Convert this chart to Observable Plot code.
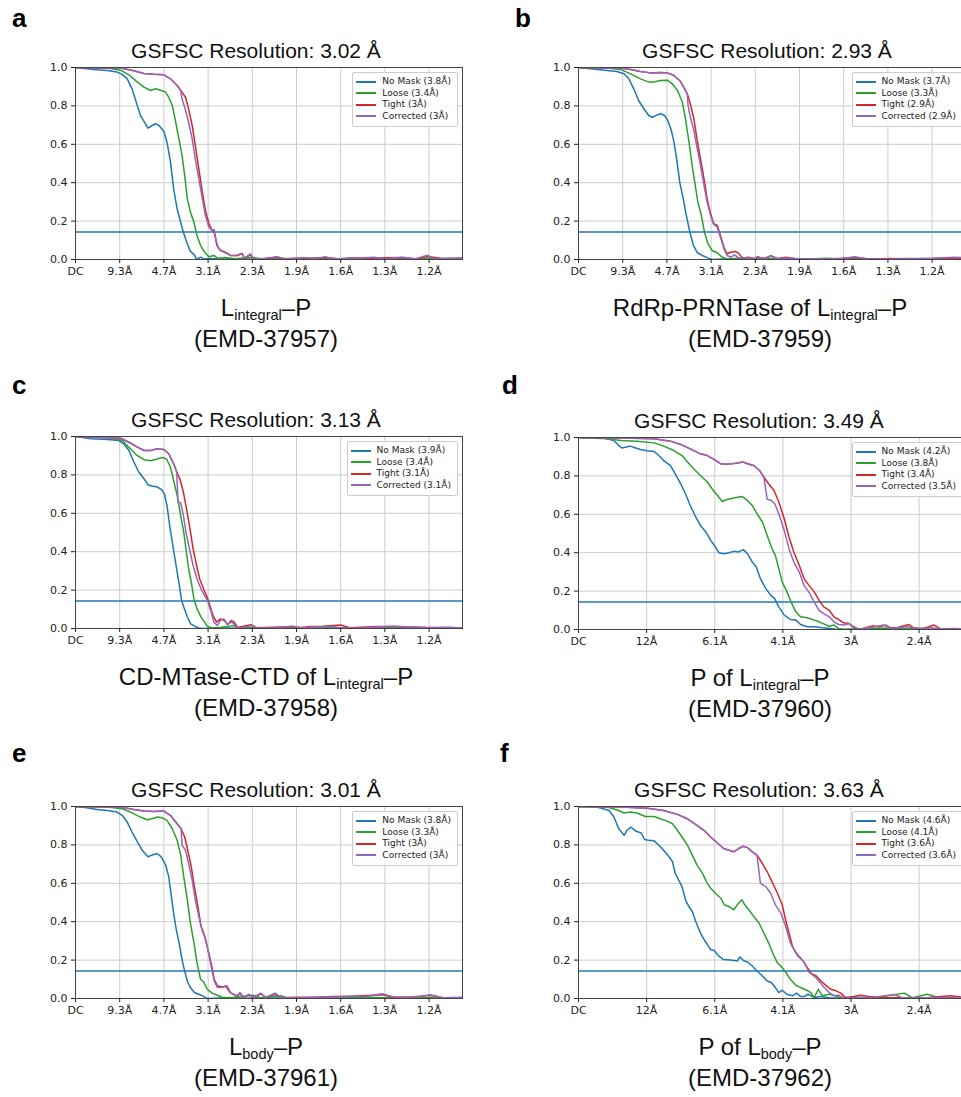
<!DOCTYPE html>
<html><head><meta charset="utf-8">
<script src="https://cdn.jsdelivr.net/npm/d3@7"></script>
<script src="https://cdn.jsdelivr.net/npm/@observablehq/plot@0.6"></script>
<style>
html,body{margin:0;padding:0;background:#fff;width:961px;height:1097px;overflow:hidden}
#page{position:relative;width:961px;height:1097px;overflow:hidden;background:#fff}
.panel{position:absolute;overflow:visible}
.panel svg{max-width:none !important;display:block}
.legend{position:absolute;font-family:"DejaVu Sans";font-size:9px;color:#222;line-height:11.5px;padding:3px 6px 4px 3px;border:1px solid #ccc;border-radius:2px;background:rgba(255,255,255,0.85);white-space:nowrap}
.legend .row{display:flex;align-items:center}
.legend .sw{display:inline-block;width:20px;height:1.6px;margin-right:6px}
#overlay{position:absolute;left:0;top:0}
</style></head>
<body><div id="page"></div>
<script>
// ---------- axis ticks (x in units of the tick spacing, i.e. spatial frequency steps) ----------
const ticksHi = [0,1,2,3,4,5,6,7,8];
const labelsHi = ["DC","9.3Å","4.7Å","3.1Å","2.3Å","1.9Å","1.6Å","1.3Å","1.2Å"];
const ticksLo = [0,1,2,3,4,5];
const labelsLo = ["DC","12Å","6.1Å","4.1Å","3Å","2.4Å"];
const yTicks = [0,0.2,0.4,0.6,0.8,1.0];
const threshold = 0.143;
const seriesNames = ["No Mask","Loose","Tight","Corrected"];
const seriesColors = ["#1f77b4","#2ca02c","#d62728","#9467bd"];

// ---------- panel a ----------
const aNoMask = [[0,1],[0.41,0.99],[0.72,0.984],[0.94,0.976],[1.06,0.964],[1.17,0.941],[1.28,0.889],[1.40,0.80],[1.47,0.75],[1.56,0.715],[1.64,0.684],[1.71,0.694],[1.81,0.707],[1.89,0.698],[2.0,0.667],[2.07,0.611],[2.15,0.507],[2.22,0.368],[2.30,0.264],[2.38,0.194],[2.44,0.142],[2.53,0.082],[2.60,0.042],[2.69,0.024],[2.74,0.0],[2.83,0.012],[2.90,0.003],[3.0,0.005],[3.3,0.002],[3.7,0.004],[4.2,0.001],[4.8,0.003],[5.4,0.002],[6.0,0.003],[6.6,0.001],[7.2,0.003],[7.8,0.002],[8.4,0.003],[8.76,0.001]];
const aLoose = [[0,1],[0.72,0.997],[1.02,0.986],[1.21,0.962],[1.40,0.924],[1.55,0.898],[1.70,0.880],[1.81,0.889],[1.92,0.882],[2.04,0.872],[2.11,0.845],[2.19,0.802],[2.26,0.724],[2.34,0.628],[2.41,0.542],[2.47,0.438],[2.53,0.316],[2.60,0.247],[2.68,0.194],[2.75,0.125],[2.83,0.073],[2.92,0.038],[3.02,0.014],[3.13,0.021],[3.21,0.007],[3.4,0.01],[3.6,0.004],[3.8,0.008],[4.0,0.012],[4.2,0.003],[4.5,0.01],[4.8,0.004],[5.1,0.006],[5.6,0.009],[5.9,0.003],[6.2,0.008],[6.6,0.003],[7.0,0.005],[7.5,0.003],[8.0,0.006],[8.4,0.002],[8.76,0.004]];
const aTight = [[0,1],[1.02,0.997],[1.32,0.983],[1.55,0.969],[1.77,0.965],[2.0,0.962],[2.15,0.941],[2.30,0.906],[2.38,0.880],[2.49,0.845],[2.56,0.783],[2.64,0.698],[2.71,0.594],[2.79,0.472],[2.87,0.351],[2.94,0.255],[3.02,0.186],[3.09,0.151],[3.14,0.142],[3.20,0.073],[3.28,0.047],[3.39,0.038],[3.51,0.021],[3.66,0.02],[3.77,0.03],[3.82,0.006],[3.96,0.025],[4.03,0.004],[4.3,0.005],[4.57,0.012],[4.7,0.004],[5.0,0.006],[5.3,0.004],[5.66,0.01],[6.0,0.003],[6.3,0.008],[6.75,0.006],[7.0,0.009],[7.4,0.01],[7.7,0.003],[7.96,0.016],[8.3,0.005],[8.76,0.006]];
const aCorrected = [[0,1],[1.02,0.997],[1.32,0.983],[1.55,0.969],[1.77,0.965],[2.0,0.962],[2.15,0.941],[2.30,0.906],[2.38,0.880],[2.41,0.837],[2.47,0.793],[2.54,0.733],[2.64,0.628],[2.71,0.524],[2.79,0.42],[2.87,0.316],[2.94,0.229],[3.02,0.168],[3.09,0.151],[3.14,0.156],[3.18,0.099],[3.24,0.056],[3.36,0.038],[3.51,0.021],[3.66,0.024],[3.77,0.033],[3.82,0.007],[3.96,0.03],[4.03,0.003],[4.3,0.006],[4.57,0.015],[4.7,0.003],[5.0,0.005],[5.17,0.01],[5.4,0.004],[5.66,0.015],[5.8,0.003],[6.3,0.006],[6.75,0.012],[7.0,0.003],[7.4,0.012],[7.7,0.004],[7.96,0.022],[8.1,0.004],[8.5,0.006],[8.76,0.008]];

// ---------- panel b ----------
const bNoMask = [[0,1],[0.42,0.99],[0.65,0.984],[0.87,0.979],[1.03,0.967],[1.14,0.941],[1.25,0.889],[1.36,0.828],[1.48,0.785],[1.59,0.75],[1.67,0.741],[1.78,0.753],[1.86,0.759],[1.95,0.75],[2.02,0.724],[2.10,0.672],[2.16,0.611],[2.22,0.524],[2.29,0.403],[2.37,0.316],[2.44,0.229],[2.52,0.142],[2.60,0.073],[2.69,0.035],[2.80,0.021],[2.91,0.01],[3.02,0],[3.3,0.003],[3.7,0.001],[4.2,0.003],[4.8,0.002],[5.4,0.003],[6.0,0.001],[6.6,0.003],[7.2,0.002],[7.8,0.003],[8.8,0.002]];
const bLoose = [[0,1],[0.65,0.997],[0.95,0.99],[1.18,0.967],[1.40,0.941],[1.59,0.924],[1.70,0.924],[1.86,0.932],[2.01,0.934],[2.12,0.915],[2.24,0.880],[2.35,0.819],[2.42,0.733],[2.50,0.611],[2.57,0.490],[2.63,0.403],[2.70,0.299],[2.78,0.229],[2.85,0.142],[2.93,0.082],[3.02,0.047],[3.14,0.035],[3.25,0.012],[3.36,0.003],[3.6,0.006],[3.9,0.003],[4.2,0.008],[4.5,0.003],[4.8,0.005],[5.2,0.002],[5.6,0.006],[6.0,0.003],[6.5,0.004],[7.0,0.003],[7.5,0.005],[8.0,0.003],[8.8,0.004]];
const bTight = [[0,1],[0.95,0.997],[1.18,0.99],[1.40,0.979],[1.63,0.972],[1.86,0.974],[2.01,0.972],[2.16,0.958],[2.31,0.927],[2.40,0.889],[2.46,0.863],[2.53,0.811],[2.61,0.733],[2.68,0.628],[2.76,0.524],[2.84,0.42],[2.91,0.316],[2.99,0.238],[3.06,0.186],[3.14,0.177],[3.21,0.125],[3.29,0.064],[3.36,0.03],[3.44,0.038],[3.55,0.042],[3.63,0.03],[3.71,0.007],[3.85,0.012],[4.0,0.004],[4.05,0.015],[4.2,0.004],[4.35,0.02],[4.5,0.005],[4.7,0.012],[4.9,0.004],[5.3,0.003],[5.8,0.004],[6.25,0.01],[6.6,0.003],[7.0,0.005],[7.5,0.004],[8.0,0.005],[8.5,0.008],[8.8,0.005]];
const bCorrected = [[0,1],[0.95,0.997],[1.18,0.99],[1.40,0.979],[1.63,0.972],[1.86,0.974],[2.01,0.972],[2.16,0.958],[2.31,0.927],[2.40,0.889],[2.46,0.863],[2.48,0.802],[2.53,0.741],[2.61,0.672],[2.68,0.585],[2.76,0.49],[2.84,0.385],[2.91,0.299],[2.99,0.229],[3.05,0.186],[3.14,0.168],[3.21,0.116],[3.29,0.056],[3.36,0.021],[3.45,0.012],[3.53,0.024],[3.63,0.007],[3.8,0.01],[3.95,0.004],[4.05,0.012],[4.2,0.003],[4.35,0.018],[4.5,0.004],[4.8,0.008],[5.0,0.003],[5.4,0.004],[5.9,0.003],[6.25,0.014],[6.5,0.004],[7.0,0.003],[7.5,0.004],[8.0,0.006],[8.5,0.012],[8.8,0.008]];

// ---------- panel c ----------
const cNoMask = [[0,1],[0.34,0.988],[0.72,0.984],[0.98,0.979],[1.09,0.962],[1.21,0.927],[1.32,0.867],[1.43,0.815],[1.55,0.78],[1.64,0.749],[1.73,0.742],[1.85,0.737],[1.94,0.725],[2.01,0.702],[2.07,0.641],[2.13,0.537],[2.19,0.45],[2.25,0.364],[2.30,0.294],[2.35,0.225],[2.40,0.147],[2.45,0.112],[2.53,0.061],[2.60,0.026],[2.69,0.012],[2.79,0.003],[2.9,0],[3.3,0.002],[3.8,0.001],[4.3,0.002],[5,0.001],[6,0.002],[7,0.001],[8,0.002],[8.76,0.001]];
const cLoose = [[0,1],[0.72,0.995],[1.06,0.979],[1.24,0.936],[1.40,0.9],[1.55,0.879],[1.70,0.874],[1.85,0.883],[1.96,0.891],[2.06,0.883],[2.15,0.84],[2.22,0.771],[2.30,0.693],[2.38,0.589],[2.45,0.501],[2.50,0.414],[2.56,0.31],[2.62,0.241],[2.68,0.154],[2.75,0.102],[2.84,0.059],[2.92,0.033],[2.98,0.012],[3.09,0.003],[3.3,0.006],[3.56,0.015],[3.7,0.003],[4.0,0.005],[4.5,0.003],[5.0,0.005],[5.5,0.002],[6.0,0.004],[6.5,0.003],[7.0,0.004],[7.5,0.002],[8.0,0.003],[8.5,0.005],[8.76,0.002]];
const cTight = [[0,1],[1.02,0.991],[1.21,0.97],[1.40,0.945],[1.55,0.927],[1.70,0.927],[1.85,0.936],[2.0,0.932],[2.11,0.91],[2.22,0.858],[2.29,0.815],[2.36,0.78],[2.44,0.711],[2.51,0.624],[2.59,0.52],[2.66,0.416],[2.74,0.328],[2.81,0.258],[2.90,0.206],[2.98,0.163],[3.04,0.12],[3.11,0.068],[3.19,0.033],[3.28,0.05],[3.36,0.042],[3.45,0.021],[3.52,0.042],[3.58,0.035],[3.67,0.005],[3.97,0.02],[4.1,0.004],[4.5,0.006],[4.9,0.01],[5.1,0.004],[5.3,0.01],[5.6,0.012],[6.0,0.018],[6.2,0.004],[6.8,0.01],[7.2,0.01],[7.6,0.008],[8.0,0.005],[8.4,0.004],[8.76,0.002]];
const cCorrected = [[0,1],[1.02,0.991],[1.21,0.97],[1.40,0.945],[1.55,0.927],[1.70,0.927],[1.85,0.936],[2.0,0.932],[2.11,0.91],[2.22,0.858],[2.29,0.815],[2.32,0.659],[2.38,0.655],[2.44,0.589],[2.50,0.501],[2.58,0.414],[2.66,0.328],[2.75,0.258],[2.84,0.206],[2.94,0.163],[3.0,0.137],[3.07,0.085],[3.13,0.033],[3.21,0.016],[3.28,0.042],[3.36,0.05],[3.43,0.021],[3.54,0.035],[3.62,0.012],[3.73,0],[3.97,0.015],[4.1,0.003],[4.5,0.004],[4.9,0.012],[5.1,0.003],[5.4,0.008],[5.8,0.01],[6.0,0.004],[6.4,0.003],[6.8,0.008],[7.2,0.012],[7.6,0.008],[8.0,0.004],[8.4,0.006],[8.76,0.003]];

// ---------- panel d ----------
const dNoMask = [[0,1],[0.37,0.997],[0.52,0.984],[0.59,0.958],[0.64,0.945],[0.70,0.95],[0.76,0.955],[0.84,0.945],[0.91,0.938],[1.01,0.931],[1.11,0.927],[1.18,0.906],[1.25,0.88],[1.35,0.854],[1.42,0.811],[1.50,0.759],[1.57,0.707],[1.64,0.646],[1.72,0.586],[1.79,0.542],[1.87,0.508],[1.94,0.464],[2.01,0.43],[2.06,0.4],[2.13,0.395],[2.21,0.4],[2.28,0.407],[2.35,0.404],[2.42,0.416],[2.48,0.395],[2.55,0.352],[2.61,0.326],[2.67,0.265],[2.75,0.213],[2.82,0.179],[2.88,0.161],[2.94,0.118],[3.02,0.075],[3.11,0.052],[3.19,0.049],[3.26,0.026],[3.36,0.014],[3.46,0.014],[3.58,0.009],[3.70,0.005],[3.80,0],[4.2,0.003],[4.6,0.001],[5.0,0.002],[5.4,0.001],[5.71,0.002]];
const dLoose = [[0,1],[0.42,0.993],[0.62,0.984],[0.86,0.981],[1.11,0.972],[1.25,0.955],[1.40,0.932],[1.52,0.906],[1.60,0.872],[1.69,0.837],[1.79,0.802],[1.89,0.768],[1.96,0.733],[2.04,0.698],[2.11,0.667],[2.18,0.677],[2.28,0.685],[2.40,0.693],[2.48,0.672],[2.55,0.646],[2.62,0.603],[2.70,0.56],[2.77,0.49],[2.84,0.421],[2.89,0.386],[2.94,0.317],[2.99,0.248],[3.06,0.196],[3.12,0.144],[3.19,0.092],[3.26,0.066],[3.36,0.061],[3.46,0.049],[3.53,0.04],[3.60,0.029],[3.68,0.017],[3.75,0.023],[3.82,0.005],[3.90,0],[4.2,0.004],[4.5,0.008],[4.8,0.003],[5.1,0.006],[5.4,0.002],[5.71,0.004]];
const dTight = [[0,1],[0.62,0.997],[1.11,0.993],[1.35,0.981],[1.50,0.964],[1.64,0.941],[1.79,0.915],[1.89,0.906],[1.99,0.886],[2.09,0.863],[2.18,0.861],[2.31,0.866],[2.42,0.872],[2.48,0.863],[2.57,0.854],[2.66,0.828],[2.72,0.794],[2.79,0.759],[2.87,0.724],[2.94,0.664],[3.02,0.577],[3.09,0.482],[3.16,0.404],[3.24,0.335],[3.31,0.265],[3.38,0.231],[3.46,0.196],[3.53,0.153],[3.60,0.118],[3.68,0.1],[3.75,0.066],[3.82,0.052],[3.89,0.035],[3.97,0.031],[4.04,0.01],[4.14,0.002],[4.31,0.019],[4.41,0.014],[4.51,0.023],[4.58,0.009],[4.68,0.01],[4.85,0.026],[4.92,0.009],[5.05,0.004],[5.22,0.023],[5.32,0.002],[5.51,0.005],[5.71,0.003]];
const dCorrected = [[0,1],[0.62,0.997],[1.11,0.993],[1.35,0.981],[1.50,0.964],[1.64,0.941],[1.79,0.915],[1.89,0.906],[1.99,0.886],[2.09,0.863],[2.18,0.861],[2.31,0.866],[2.42,0.872],[2.48,0.863],[2.57,0.854],[2.66,0.828],[2.72,0.794],[2.77,0.678],[2.83,0.672],[2.88,0.655],[2.94,0.603],[3.02,0.516],[3.09,0.421],[3.16,0.352],[3.24,0.3],[3.31,0.23],[3.38,0.196],[3.46,0.144],[3.53,0.1],[3.60,0.083],[3.68,0.066],[3.75,0.04],[3.82,0.026],[3.90,0.023],[3.97,0.031],[4.04,0.014],[4.12,0.002],[4.3,0.01],[4.48,0.023],[4.6,0.005],[4.83,0.014],[5.0,0.004],[5.19,0.008],[5.4,0.003],[5.71,0.004]];

// ---------- panel e ----------
const eNoMask = [[0,1],[0.26,0.993],[0.49,0.984],[0.72,0.979],[0.94,0.971],[1.06,0.953],[1.17,0.919],[1.28,0.867],[1.40,0.816],[1.51,0.772],[1.64,0.738],[1.73,0.747],[1.85,0.755],[1.94,0.738],[2.04,0.695],[2.11,0.634],[2.17,0.531],[2.22,0.445],[2.28,0.359],[2.36,0.272],[2.41,0.203],[2.47,0.143],[2.53,0.09],[2.60,0.057],[2.69,0.031],[2.79,0.022],[2.87,0.014],[2.98,0],[3.3,0.003],[3.8,0.001],[4.3,0.003],[5,0.002],[6,0.003],[7,0.002],[8,0.003],[8.76,0.001]];
const eLoose = [[0,1],[0.72,0.997],[1.06,0.988],[1.24,0.971],[1.47,0.945],[1.62,0.931],[1.73,0.936],[1.85,0.945],[1.96,0.941],[2.07,0.928],[2.19,0.884],[2.30,0.824],[2.38,0.747],[2.45,0.634],[2.53,0.514],[2.60,0.393],[2.68,0.29],[2.75,0.186],[2.83,0.1],[2.90,0.086],[2.98,0.048],[3.09,0.028],[3.21,0.017],[3.32,0.005],[3.6,0.006],[4.03,0.017],[4.2,0.003],[4.64,0.014],[4.8,0.003],[5.2,0.004],[5.6,0.006],[6.0,0.003],[6.5,0.008],[7.0,0.004],[7.5,0.006],[8.0,0.003],[8.5,0.004],[8.76,0.002]];
const eTight = [[0,1],[1.02,0.997],[1.32,0.984],[1.55,0.976],[1.77,0.974],[2.0,0.976],[2.15,0.953],[2.30,0.91],[2.39,0.884],[2.47,0.841],[2.54,0.772],[2.62,0.686],[2.69,0.583],[2.77,0.479],[2.84,0.376],[2.90,0.341],[2.96,0.29],[3.04,0.212],[3.09,0.16],[3.14,0.1],[3.21,0.066],[3.32,0.06],[3.39,0.066],[3.51,0.028],[3.66,0.012],[3.72,0.026],[3.81,0.004],[3.92,0.02],[4.03,0.004],[4.19,0.024],[4.30,0.006],[4.52,0.022],[4.64,0.004],[5.0,0.006],[5.4,0.005],[5.8,0.01],[6.2,0.012],[6.6,0.016],[6.94,0.02],[7.2,0.006],[7.6,0.008],[8.03,0.016],[8.3,0.005],[8.76,0.004]];
const eCorrected = [[0,1],[1.02,0.997],[1.32,0.984],[1.55,0.976],[1.77,0.974],[2.0,0.976],[2.15,0.953],[2.30,0.91],[2.39,0.884],[2.41,0.798],[2.49,0.772],[2.56,0.703],[2.64,0.617],[2.71,0.514],[2.79,0.428],[2.87,0.35],[2.92,0.324],[2.98,0.272],[3.04,0.203],[3.09,0.143],[3.14,0.091],[3.21,0.057],[3.32,0.057],[3.43,0.066],[3.51,0.031],[3.66,0.014],[3.72,0.031],[3.81,0.005],[3.92,0.022],[4.03,0.005],[4.19,0.028],[4.30,0.005],[4.52,0.028],[4.64,0.005],[5.0,0.004],[5.4,0.006],[5.8,0.008],[6.2,0.01],[6.6,0.012],[6.94,0.025],[7.2,0.008],[7.6,0.004],[8.03,0.02],[8.3,0.004],[8.76,0.006]];

// ---------- panel f ----------
const fNoMask = [[0,1],[0.27,0.997],[0.45,0.979],[0.52,0.945],[0.59,0.884],[0.67,0.85],[0.71,0.876],[0.77,0.893],[0.84,0.872],[0.92,0.862],[0.97,0.828],[1.03,0.824],[1.11,0.821],[1.18,0.798],[1.25,0.772],[1.33,0.738],[1.38,0.712],[1.42,0.652],[1.47,0.617],[1.52,0.583],[1.57,0.514],[1.62,0.479],[1.67,0.453],[1.72,0.402],[1.79,0.341],[1.86,0.298],[1.94,0.255],[1.99,0.25],[2.06,0.221],[2.13,0.203],[2.23,0.2],[2.33,0.195],[2.37,0.216],[2.42,0.198],[2.48,0.19],[2.55,0.169],[2.62,0.143],[2.70,0.117],[2.77,0.091],[2.83,0.083],[2.89,0.057],[2.94,0.031],[2.99,0.043],[3.06,0.022],[3.14,0.014],[3.20,0.028],[3.26,0.01],[3.31,0.01],[3.37,0.022],[3.46,0.005],[3.55,0.01],[3.7,0.002],[4.0,0.003],[4.4,0.001],[4.8,0.002],[5.2,0.001],[5.71,0.002]];
const fLoose = [[0,1],[0.42,0.997],[0.59,0.979],[0.67,0.966],[0.76,0.971],[0.86,0.966],[0.98,0.948],[1.11,0.948],[1.20,0.936],[1.30,0.924],[1.38,0.91],[1.45,0.876],[1.52,0.841],[1.60,0.798],[1.67,0.747],[1.74,0.695],[1.82,0.652],[1.89,0.6],[1.94,0.574],[2.01,0.548],[2.09,0.522],[2.14,0.488],[2.21,0.479],[2.28,0.462],[2.33,0.488],[2.40,0.514],[2.44,0.488],[2.50,0.462],[2.57,0.428],[2.65,0.393],[2.72,0.341],[2.79,0.29],[2.87,0.221],[2.92,0.186],[2.97,0.169],[3.04,0.138],[3.11,0.1],[3.19,0.069],[3.26,0.057],[3.35,0.043],[3.41,0.031],[3.46,0.005],[3.52,0.048],[3.58,0.014],[3.68,0.022],[3.77,0.014],[3.87,0],[4.1,0.004],[4.4,0.006],[4.78,0.028],[4.9,0.004],[5.12,0.022],[5.3,0.003],[5.71,0.004]];
const fTight = [[0,1],[0.62,0.997],[1.01,0.991],[1.25,0.979],[1.45,0.959],[1.60,0.936],[1.74,0.902],[1.84,0.876],[1.94,0.841],[2.04,0.81],[2.13,0.781],[2.21,0.772],[2.28,0.764],[2.35,0.781],[2.42,0.793],[2.48,0.786],[2.55,0.764],[2.62,0.747],[2.70,0.703],[2.77,0.66],[2.84,0.609],[2.92,0.548],[2.99,0.488],[3.04,0.41],[3.09,0.341],[3.14,0.272],[3.22,0.221],[3.30,0.195],[3.36,0.16],[3.42,0.129],[3.49,0.117],[3.56,0.091],[3.64,0.066],[3.70,0.048],[3.78,0.04],[3.85,0.028],[3.92,0.005],[4.04,0.01],[4.14,0.017],[4.26,0.01],[4.43,0.005],[4.8,0.003],[5.1,0.004],[5.46,0.014],[5.71,0.003]];
const fCorrected = [[0,1],[0.62,0.997],[1.01,0.991],[1.25,0.979],[1.45,0.959],[1.60,0.936],[1.74,0.902],[1.84,0.876],[1.94,0.841],[2.04,0.81],[2.13,0.781],[2.21,0.772],[2.28,0.764],[2.35,0.781],[2.42,0.793],[2.48,0.786],[2.55,0.764],[2.62,0.747],[2.67,0.6],[2.75,0.583],[2.82,0.548],[2.89,0.488],[2.97,0.445],[3.04,0.376],[3.11,0.29],[3.19,0.238],[3.26,0.212],[3.33,0.178],[3.38,0.138],[3.46,0.117],[3.53,0.091],[3.60,0.06],[3.68,0.031],[3.75,0.014],[3.82,0.017],[3.90,0],[4.1,0.006],[4.3,0.004],[4.63,0.021],[4.75,0.004],[5.0,0.003],[5.4,0.005],[5.71,0.003]];

// ---------- texts ----------
const letters = ["a","b","c","d","e","f"];
const titles = ["GSFSC Resolution: 3.02 Å","GSFSC Resolution: 2.93 Å","GSFSC Resolution: 3.13 Å","GSFSC Resolution: 3.49 Å","GSFSC Resolution: 3.01 Å","GSFSC Resolution: 3.63 Å"];
const legendRes = [["3.8Å","3.4Å","3Å","3Å"],["3.7Å","3.3Å","2.9Å","2.9Å"],["3.9Å","3.4Å","3.1Å","3.1Å"],["4.2Å","3.8Å","3.4Å","3.5Å"],["3.8Å","3.3Å","3Å","3Å"],["4.6Å","4.1Å","3.6Å","3.6Å"]];
const capPrefix = ["","RdRp-PRNTase of ","CD-MTase-CTD of ","P of ","","P of "];
const capSub = ["integral","integral","integral","integral","body","body"];
const capEmd = ["(EMD-37957)","(EMD-37959)","(EMD-37958)","(EMD-37960)","(EMD-37961)","(EMD-37962)"];
const panelData = [
  [aNoMask,aLoose,aTight,aCorrected],[bNoMask,bLoose,bTight,bCorrected],
  [cNoMask,cLoose,cTight,cCorrected],[dNoMask,dLoose,dTight,dCorrected],
  [eNoMask,eLoose,eTight,eCorrected],[fNoMask,fLoose,fTight,fCorrected]];
const panelTicks = [[ticksHi,labelsHi],[ticksHi,labelsHi],[ticksHi,labelsHi],[ticksLo,labelsLo],[ticksHi,labelsHi],[ticksLo,labelsLo]];

// ---------- layout ----------
const layout = [
  {pl:75,  pt:67,  pw:387, xMax:8.756, titleX:256, letterX:12,  letterY:27,  capX:266},
  {pl:578, pt:67,  pw:389, xMax:8.8,   titleX:767, letterX:515, letterY:27,  capX:760},
  {pl:75,  pt:436, pw:387, xMax:8.756, titleX:256, letterX:12,  letterY:394, capX:266},
  {pl:578, pt:437, pw:389, xMax:5.71,  titleX:759, letterX:502, letterY:394, capX:760},
  {pl:75,  pt:806, pw:387, xMax:8.756, titleX:256, letterX:12,  letterY:762, capX:266},
  {pl:578, pt:806, pw:389, xMax:5.71,  titleX:759, letterX:500, letterY:762, capX:760}
];
const PH = 192, ML = 40, MR = 6, MT = 6, MB = 30;

const page = document.getElementById("page");

layout.forEach((L, i) => {
  const [tv, tl] = panelTicks[i];
  const labelMap = new Map(tv.map((v, k) => [v, tl[k]]));
  const W = ML + L.pw + MR, H = MT + PH + MB;
  const chart = Plot.plot({
    width: W, height: H,
    marginLeft: ML, marginRight: MR, marginTop: MT, marginBottom: MB,
    style: {fontFamily: "DejaVu Sans", fontSize: "11px", color: "#222", background: "transparent", overflow: "visible", maxWidth: "none"},
    x: {domain: [0, L.xMax], label: null},
    y: {domain: [0, 1], label: null},
    marks: [
      Plot.gridX({ticks: tv, stroke: "#cccccc", strokeOpacity: 1, strokeWidth: 1}),
      Plot.gridY({ticks: yTicks, stroke: "#cccccc", strokeOpacity: 1, strokeWidth: 1}),
      Plot.ruleY([threshold], {stroke: "#1f77b4", strokeWidth: 1.5}),
      ...panelData[i].map((s, k) => Plot.line(s, {x: d => d[0], y: d => d[1], stroke: seriesColors[k], strokeWidth: 1.5, clip: true})),
      Plot.frame({stroke: "#444", strokeWidth: 1}),
      Plot.axisX({ticks: tv, tickFormat: d => labelMap.get(d), tickSize: 4, tickPadding: 4}),
      Plot.axisY({ticks: yTicks, tickFormat: d3.format(".1f"), tickSize: 4, tickPadding: 4})
    ]
  });
  chart.setAttribute("width", W);
  chart.setAttribute("height", H);
  chart.style.width = W + "px";
  chart.style.height = H + "px";
  const wrap = document.createElement("div");
  wrap.className = "panel";
  wrap.style.left = (L.pl - ML) + "px";
  wrap.style.top = (L.pt - MT) + "px";
  wrap.style.width = W + "px";
  wrap.style.height = H + "px";
  wrap.appendChild(chart);
  page.appendChild(wrap);

  // legend (upper right, inside axes)
  const lg = document.createElement("div");
  lg.className = "legend";
  const boxRight = L.pl + L.pw - 4;
  lg.style.right = (961 - boxRight) + "px";
  lg.style.top = (L.pt + 5) + "px";
  seriesNames.forEach((n, k) => {
    const row = document.createElement("div");
    row.className = "row";
    const sw = document.createElement("span");
    sw.className = "sw";
    sw.style.background = seriesColors[k];
    const tx = document.createElement("span");
    tx.textContent = `${n} (${legendRes[i][k]})`;
    row.appendChild(sw); row.appendChild(tx);
    lg.appendChild(row);
  });
  page.appendChild(lg);
});

// ---------- overlay text: panel letters, titles, captions ----------
const ov = d3.select(page).append("svg").attr("id", "overlay").attr("width", 961).attr("height", 1097)
  .style("font-family", "'Liberation Sans', Arial, sans-serif");
layout.forEach((L, i) => {
  ov.append("text").attr("x", L.letterX).attr("y", L.letterY).attr("font-size", 26).attr("font-weight", "bold").attr("fill", "#000").text(letters[i]);
  ov.append("text").attr("x", L.titleX).attr("y", L.pt - 9).attr("text-anchor", "middle").attr("font-size", 21).attr("fill", "#111").text(titles[i]);
  const capY = L.pt + PH + 57;
  const t = ov.append("text").attr("x", L.capX).attr("y", capY).attr("text-anchor", "middle").attr("font-size", 24).attr("fill", "#111");
  t.append("tspan").text(capPrefix[i] + "L");
  t.append("tspan").attr("dy", 4).attr("font-size", 14.5).text(capSub[i]);
  t.append("tspan").attr("dy", -4).text("–P");
  ov.append("text").attr("x", L.capX).attr("y", capY + 31).attr("text-anchor", "middle").attr("font-size", 24).attr("fill", "#111").text(capEmd[i]);
});
</script>
</body></html>
